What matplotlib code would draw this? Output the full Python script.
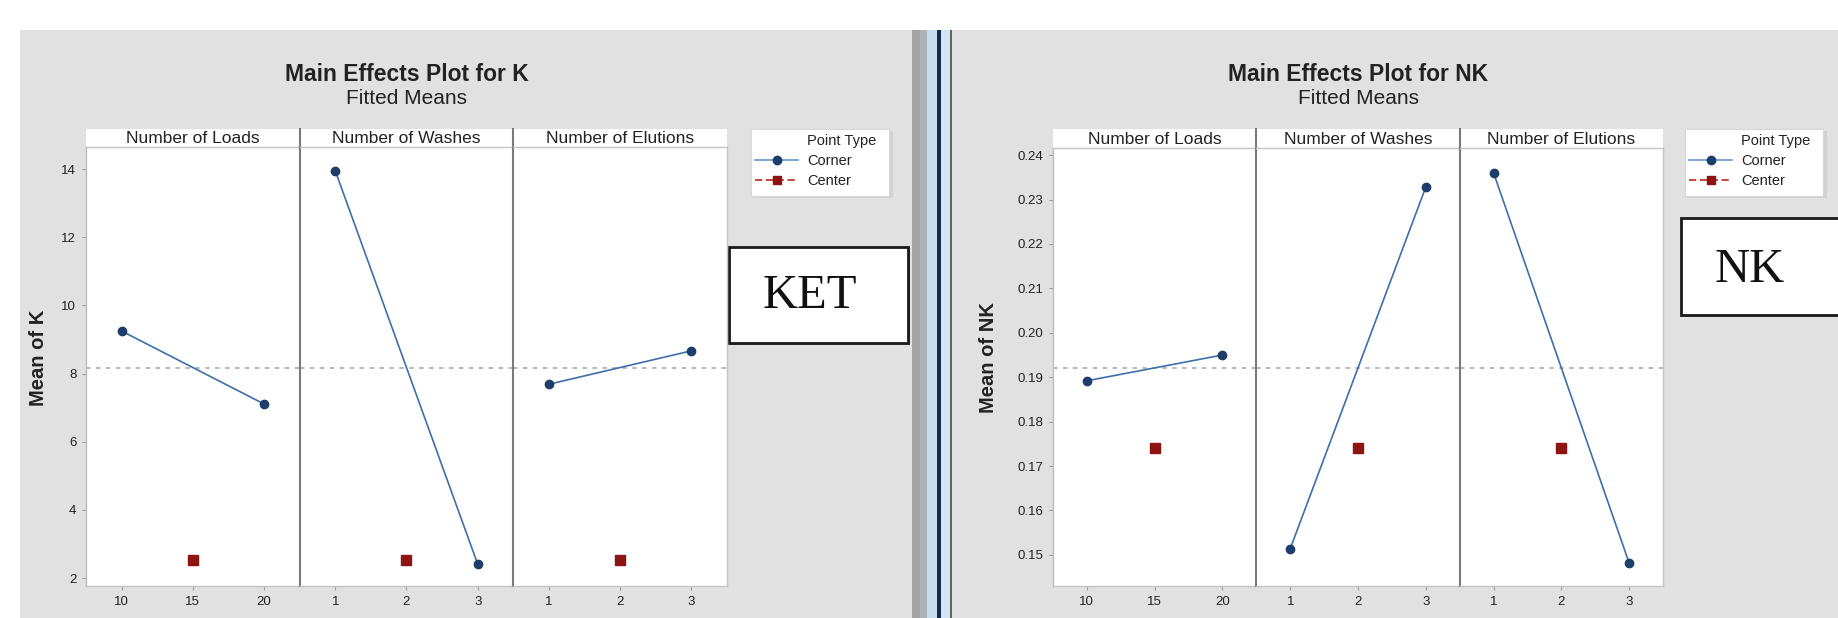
import matplotlib
matplotlib.use("Agg")
import matplotlib.pyplot as plt
from matplotlib.patches import Rectangle

plt.rcParams['font.family'] = 'Liberation Sans'

W, H = 1838, 618

# dados
fatores = ["Number of Loads", "Number of Washes", "Number of Elutions"]
niveis = [[10, 20], [1, 3], [1, 3]]
centros = [15, 2, 2]
niveis_rot = [["10", "15", "20"], ["1", "2", "3"], ["1", "2", "3"]]

k_corner = [[9.25, 7.11], [13.95, 2.41], [7.69, 8.67]]
k_center = [2.53, 2.53, 2.53]
k_media = 8.18
k_ticks = [2, 4, 6, 8, 10, 12, 14]

nk_corner = [[0.1892, 0.1950], [0.1514, 0.2328], [0.2360, 0.1482]]
nk_center = [0.1741, 0.1741, 0.1741]
nk_media = 0.1921
nk_ticks = [0.15, 0.16, 0.17, 0.18, 0.19, 0.20, 0.21, 0.22, 0.23, 0.24]

AZUL_LINHA = '#3f6fa8'
AZUL_PONTO = '#1d3d6b'
VERMELHO = '#8e1414'
CINZA_FUNDO = '#e1e1e1'
TEXTO = '#222222'


def caixa(x0, y0, x1, y1):
    # pixels (origem no topo) -> fracao da figura
    return [x0 / W, 1 - y1 / H, (x1 - x0) / W, (y1 - y0) / H]


fig = plt.figure(figsize=(W / 100, H / 100), dpi=100)
fig.patch.set_facecolor('white')

bg = fig.add_axes([0, 0, 1, 1])
bg.set_xlim(0, W)
bg.set_ylim(H, 0)
bg.axis('off')

# fundos cinza e separador
bg.add_patch(Rectangle((20, 30), 892, H - 30, fc=CINZA_FUNDO, ec='none'))
bg.add_patch(Rectangle((912, 30), 8, H - 30, fc='#a3a3a3', ec='none'))
bg.add_patch(Rectangle((920, 30), 7, H - 30, fc='#aeb3b8', ec='none'))
bg.add_patch(Rectangle((927, 30), 10, H - 30, fc='#c6dcef', ec='none'))
bg.add_patch(Rectangle((937, 30), 4, H - 30, fc='#17294a', ec='none'))
bg.add_patch(Rectangle((941, 30), 9, H - 30, fc='#d3e5f3', ec='none'))
bg.add_patch(Rectangle((950, 30), 2, H - 30, fc='#5e646b', ec='none'))
bg.add_patch(Rectangle((952, 30), W - 952, H - 30, fc=CINZA_FUNDO, ec='none'))


def grafico(x0, x1, y_strip, y_top, y_bot, corner, center, media, ylim,
            yticks, ytl, titulo, ylabel, xc_titulo, x_ylabel, leg_x, caixa_txt):
    larg = (x1 - x0) / 3
    bg.text(xc_titulo, 81, titulo, ha='center', va='baseline', fontsize=16.5,
            fontweight='bold', color=TEXTO)
    bg.text(xc_titulo, 104, "Fitted Means", ha='center', va='baseline',
            fontsize=15, color=TEXTO)
    bg.text(x_ylabel, (y_strip + y_bot) / 2, ylabel, rotation=90, ha='center',
            va='center', fontsize=14.5, fontweight='bold', color=TEXTO)

    bg.add_patch(Rectangle((x0, y_strip), x1 - x0, y_top - y_strip,
                           fc='white', ec='none'))
    for i, fator in enumerate(fatores):
        xa = x0 + i * larg
        bg.text(xa + larg / 2, y_top - 4, fator, ha='center', va='baseline',
                fontsize=12.5, color=TEXTO)
        if i > 0:
            bg.plot([xa, xa], [y_strip, y_top], color='#7a7a7a', lw=1.5)

        ax = fig.add_axes(caixa(xa, y_top, xa + larg, y_bot))
        ax.set_facecolor('white')
        lo, hi = niveis[i]
        pad = (hi - lo) / 4
        ax.set_xlim(lo - pad, hi + pad)
        ax.set_ylim(*ylim)

        ax.axhline(media, color='#b3b3b3', lw=1.3, ls=(0, (2.5, 3)), zorder=1)
        ax.plot(niveis[i], corner[i], color=AZUL_LINHA, lw=1.2, marker='o',
                ms=6, mfc=AZUL_PONTO, mec=AZUL_PONTO, zorder=3)
        ax.plot([centros[i]], [center[i]], ls='none', marker='s', ms=6.5,
                color=VERMELHO, zorder=3)

        ax.set_xticks([lo, centros[i], hi])
        ax.set_xticklabels(niveis_rot[i])
        ax.tick_params(axis='both', direction='out', length=3, width=0.8,
                       color='#9a9a9a', labelsize=9.5, labelcolor=TEXTO, pad=4)
        if i == 0:
            ax.set_yticks(yticks)
            ax.set_yticklabels(ytl)
        else:
            ax.set_yticks([])
        for lado in ['top', 'bottom', 'right']:
            ax.spines[lado].set_color('#c4c4c4')
            ax.spines[lado].set_linewidth(1.0)
        ax.spines['left'].set_color('#7a7a7a' if i > 0 else '#bdbdbd')
        ax.spines['left'].set_linewidth(1.5 if i > 0 else 1.0)
        if i < 2:
            ax.spines['right'].set_visible(False)

    # legenda desenhada a mao
    bg.add_patch(Rectangle((leg_x + 2, 131), 140, 67, fc='#d2d2d2', ec='none'))
    bg.add_patch(Rectangle((leg_x, 129), 138, 67, fc='white', ec='#d8d8d8', lw=0.8))
    tx = leg_x + 56
    bg.text(tx, 145, "Point Type", ha='left', va='baseline', fontsize=10.5, color=TEXTO)
    bg.plot([leg_x + 4, leg_x + 47], [160, 160], color='#6fa0d6', lw=1.3)
    bg.plot([leg_x + 25.5], [160], marker='o', ms=6, color=AZUL_PONTO)
    bg.plot([leg_x + 4, leg_x + 47], [180, 180], color='#c0392b', lw=1.3, ls=(0, (4, 2)))
    bg.plot([leg_x + 25.5], [180], marker='s', ms=6, color=VERMELHO)
    bg.text(tx, 165, "Corner", ha='left', va='baseline', fontsize=10.5, color=TEXTO)
    bg.text(tx, 185, "Center", ha='left', va='baseline', fontsize=10.5, color=TEXTO)

    # caixa com o nome
    bx0, by0, bx1, by1, txt, tcx, tby = caixa_txt
    bg.add_patch(Rectangle((bx0 + 2, by0 + 2), bx1 - bx0, by1 - by0, fc='#8c8c8c', ec='none'))
    bg.add_patch(Rectangle((bx0, by0), bx1 - bx0, by1 - by0, fc='white',
                           ec='#1a1a1a', lw=2))
    bg.text(tcx, tby, txt, ha='center', va='baseline', fontsize=35,
            family='Liberation Serif', color='#111111')


grafico(86, 727, 129, 147, 586, k_corner, k_center, k_media, (1.77, 14.65),
        k_ticks, [str(t) for t in k_ticks], "Main Effects Plot for K", "Mean of K",
        407, 39, 751, (729, 247, 908, 343, "KET", 810, 308))

grafico(1053, 1663, 129, 148, 586, nk_corner, nk_center, nk_media, (0.143, 0.2416),
        nk_ticks, ["%.2f" % t for t in nk_ticks], "Main Effects Plot for NK",
        "Mean of NK", 1358, 988, 1685, (1681, 218, 1860, 315, "NK", 1750, 282))

fig.savefig("out.png", dpi=100)
